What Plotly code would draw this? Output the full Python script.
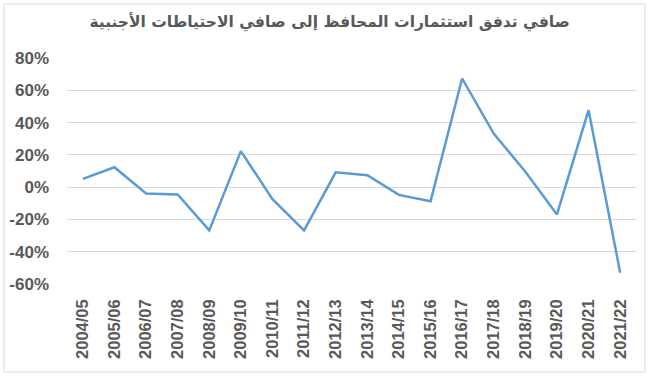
import plotly.graph_objects as go

categories = ["2004/05", "2005/06", "2006/07", "2007/08", "2008/09", "2009/10",
              "2010/11", "2011/12", "2012/13", "2013/14", "2014/15", "2015/16",
              "2016/17", "2017/18", "2018/19", "2019/20", "2020/21", "2021/22"]
values = [5.1, 12.3, -3.9, -4.5, -26.8, 22.3, -7.4, -26.8, 9.2, 7.4,
          -4.8, -8.7, 67.3, 33.2, 9.5, -16.9, 47.7, -53.0]
y_ticks = [-60, -40, -20, 0, 20, 40, 60, 80]
y_tick_labels = ["-60%", "-40%", "-20%", "0%", "20%", "40%", "60%", "80%"]
title = "صافي تدفق استثمارات المحافظ إلى صافي الاحتياطات الأجنبية"

fig = go.Figure()
fig.add_trace(go.Scatter(
    x=categories, y=values, mode="lines",
    line=dict(color="#5B9BD5", width=2.5),
    hoverinfo="x+y",
))

fig.update_layout(
    width=650, height=377,
    margin=dict(l=67, r=14, t=58, b=93, autoexpand=False),
    paper_bgcolor="white", plot_bgcolor="white",
    title=dict(text="<b>" + title + "</b>", x=0.507, xanchor="center", xref="container",
               y=1 - 22 / 377, yref="container", yanchor="middle",
               font=dict(family="DejaVu Sans, Arial, sans-serif", size=15.5, color="#595959"),
               automargin=False),
    showlegend=False,
    font=dict(family="Liberation Sans, Arial, sans-serif", color="#595959"),
)
fig.update_xaxes(
    type="category", tickangle=-90, showgrid=False, showline=False, ticks="",
    range=[-0.5, len(categories) - 0.5],
    tickvals=categories, ticktext=["<b>%s</b>" % c for c in categories],
    tickfont=dict(size=16.5, color="#595959", family="Liberation Sans"),
    ticklabelstandoff=11, automargin=False,
)
fig.update_yaxes(
    range=[-60, 80], tickvals=y_ticks, ticktext=["<b>%s</b>" % t for t in y_tick_labels],
    showgrid=True, gridcolor="#D9D9D9", gridwidth=1,
    zeroline=True, zerolinecolor="#D9D9D9", zerolinewidth=1,
    showline=False, ticks="", automargin=False,
    tickfont=dict(size=17, color="#595959", family="Liberation Sans"),
    ticklabelstandoff=17,
)

fig.add_shape(type="rect", xref="paper", yref="paper",
              x0=-63/569, x1=1 + 9/569, y0=-88/226, y1=1 + 54/226,
              line=dict(color="#D9D9D9", width=1), fillcolor="rgba(0,0,0,0)", layer="above")

fig.write_html("out.html", config={"displayModeBar": False},
               post_script="document.body.style.margin='0';")
